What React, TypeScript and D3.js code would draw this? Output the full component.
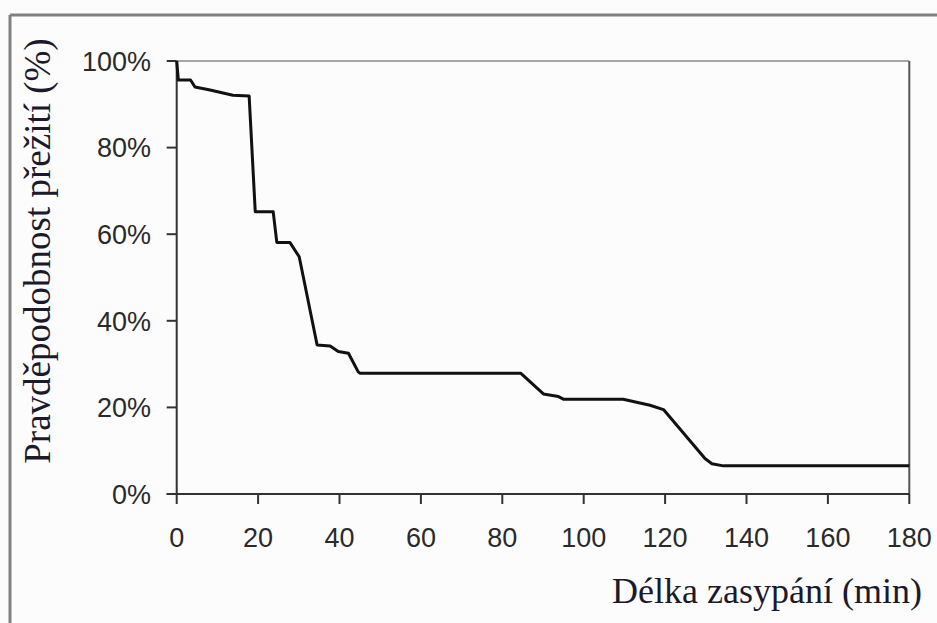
import React from "react";
import * as d3 from "d3";

const timeMin = [0, 0.4, 3.4, 4.5, 8.2, 13.8, 17.8, 19.3, 23.7, 24.6, 27.8, 30.1, 34.5, 37.7, 39.7, 42.2, 44.6, 45, 84.5, 90.1, 93.8, 95, 109.7, 116.3, 119.6, 129.8, 131.5, 134.3, 180];
const survival = [100, 95.6, 95.6, 94, 93.3, 92.1, 91.9, 65.2, 65.2, 58.1, 58.1, 54.8, 34.4, 34.2, 32.9, 32.5, 28.2, 27.9, 27.9, 23.1, 22.5, 21.9, 21.9, 20.5, 19.5, 8.2, 7, 6.5, 6.5];
const xTicks = [0, 20, 40, 60, 80, 100, 120, 140, 160, 180];
const yTicks = [0, 20, 40, 60, 80, 100];
const xTitle = "Délka zasypání (min)";
const yTitle = "Pravděpodobnost přežití (%)";

const W = 937;
const H = 623;
const L = 176.7, R = 909.3, T = 61, B = 494;

export default function App() {
  const x = d3.scaleLinear().domain([0, 180]).range([L, R]);
  const y = d3.scaleLinear().domain([0, 100]).range([B, T]);
  const pts: [number, number][] = timeMin.map((t, i) => [t, survival[i]]);
  const line = d3.line<[number, number]>().x(d => x(d[0])).y(d => y(d[1]));
  const sans = "'Liberation Sans', Arial, sans-serif";
  const serif = "'Liberation Serif', 'Times New Roman', serif";
  return (
    <svg width={W} height={H} style={{ position: "absolute", left: 0, top: 0 }}>
      <rect x={0} y={0} width={W} height={H} fill="#fcfcfc" />
      {/* outer frame */}
      <line x1={10} y1={15} x2={W} y2={15} stroke="#808080" strokeWidth={3} />
      <line x1={10} y1={15} x2={10} y2={H} stroke="#808080" strokeWidth={3} />
      {/* plot box */}
      <line x1={L} y1={T} x2={R} y2={T} stroke="#8a8a8a" strokeWidth={1.5} />
      <line x1={R} y1={T} x2={R} y2={B} stroke="#555" strokeWidth={2} />
      <line x1={L} y1={T} x2={L} y2={B} stroke="#333" strokeWidth={2} />
      <line x1={L - 10} y1={B} x2={R} y2={B} stroke="#333" strokeWidth={2} />
      {yTicks.map(v => (
        <g key={"y" + v}>
          <line x1={L - 10} x2={L} y1={y(v)} y2={y(v)} stroke="#333" strokeWidth={2} />
          <text x={151} y={y(v)} dy="0.36em" textAnchor="end" fontFamily={sans} fontSize={27} fill="#2a2a2a">{v + "%"}</text>
        </g>
      ))}
      {xTicks.map(v => (
        <g key={"x" + v}>
          <line x1={x(v)} x2={x(v)} y1={B} y2={B + 10} stroke="#333" strokeWidth={2} />
          <text x={x(v)} y={547} textAnchor="middle" fontFamily={sans} fontSize={27} fill="#2a2a2a">{v}</text>
        </g>
      ))}
      <path d={line(pts) || ""} fill="none" stroke="#111" strokeWidth={3} strokeLinejoin="round" />
      <text x={922} y={603} textAnchor="end" fontFamily={serif} fontSize={36} fill="#1a1a2a">{xTitle}</text>
      <text transform={`translate(50,251) rotate(-90)`} textAnchor="middle" fontFamily={serif} fontSize={37} fill="#1a1a2a">{yTitle}</text>
    </svg>
  );
}
